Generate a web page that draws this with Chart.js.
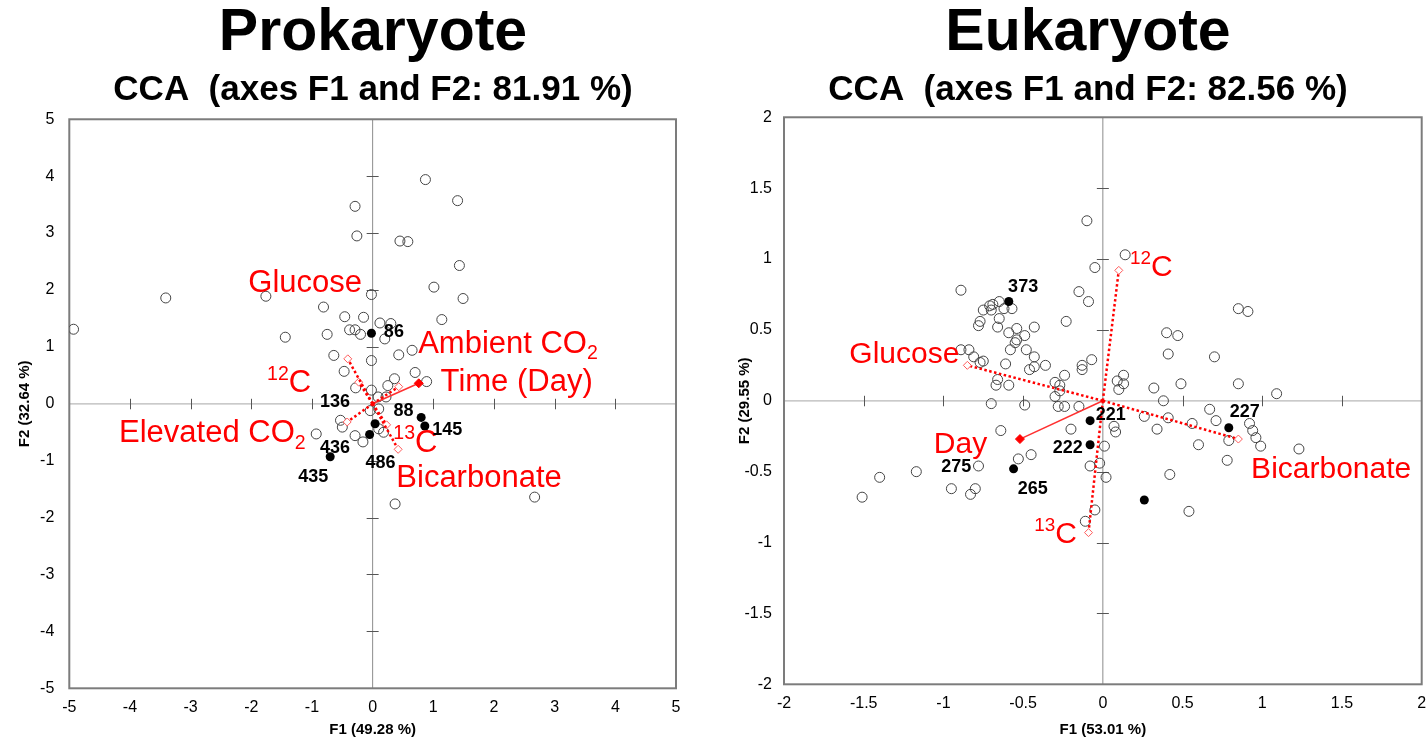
<!DOCTYPE html>
<html><head><meta charset="utf-8">
<script src="https://cdn.jsdelivr.net/npm/chart.js@4.4.0/dist/chart.umd.min.js"></script>
<style>
html,body{margin:0;padding:0;background:#fff;overflow:hidden;width:1427px;height:745px;position:relative;}
#wrapL{position:absolute;left:0;top:0;width:746px;height:745px;}
#wrapR{position:absolute;left:713px;top:0;width:750px;height:745px;}
canvas{display:block;}
</style></head><body>
<div id="wrapL"><canvas id="cL" width="746" height="745"></canvas></div>
<div id="wrapR"><canvas id="cR" width="750" height="745"></canvas></div>
<script>
// ================= DATA =================
// ---- Prokaryote ----
const proTicks = [-5, -4, -3, -2, -1, 0, 1, 2, 3, 4, 5];
const proSiteX = [-4.93, -3.41, -1.76, -1.44, -0.81, -0.75, -0.46, -0.15, -0.38, -0.29, -0.20, -0.29, -0.26, -0.02, -0.64, -0.47, -0.28, -0.02, -0.02, 0.12, 0.87, 1.40, 0.45, 0.58, 1.43, 1.01, 1.49, 1.14, 0.30, 0.20, 0.65, 0.43, 0.70, 0.89, 0.36, 0.25, 0.09, 0.22, -0.04, 0.10, -0.53, -0.50, -0.93, -0.29, -0.16, 0.10, 0.18, 0.37, 2.67];
const proSiteY = [1.31, 1.86, 1.89, 1.17, 1.70, 1.22, 1.53, 1.52, 1.30, 1.30, 1.22, 3.47, 2.95, 1.92, 0.85, 0.57, 0.28, 0.76, 0.24, 1.42, 3.94, 3.57, 2.86, 2.85, 2.43, 2.05, 1.85, 1.48, 1.41, 1.14, 0.94, 0.86, 0.55, 0.39, 0.44, 0.32, 0.12, 0.12, -0.12, -0.09, -0.29, -0.41, -0.53, -0.56, -0.67, -0.44, -0.50, -1.76, -1.64];
const proSampleX = [-0.02, 0.80, 0.86, 0.04, -0.05, -0.70];
const proSampleY = [1.24, -0.24, -0.39, -0.35, -0.54, -0.93];
const proOtuLabels = ['86', '136', '88', '145', '436', '435', '486'];
const proVarNames = ['^{12}C', '^{13}C', 'Glucose', 'Bicarbonate', 'Elevated CO_{2}', 'Ambient CO_{2}', 'Time (Day)'];
const proVarX = [-0.41, 0.42, -0.23, 0.23, -0.42, 0.43, 0.76];
const proVarY = [0.79, -0.80, 0.38, -0.37, -0.32, 0.30, 0.36];
const proVarQuant = [false, false, false, false, false, false, true];

// ---- Eukaryote ----
const eukTicks = [-2, -1.5, -1, -0.5, 0, 0.5, 1, 1.5, 2];
const eukSiteX = [-0.10, -0.89, -0.15, -0.09, -0.23, -0.05, -0.65, -0.69, -0.71, -0.75, -0.70, -0.62, -0.57, -0.77, -0.78, -0.65, -0.66, -0.43, -0.59, -0.54, -0.49, -0.54, -0.55, -0.58, -0.48, -0.43, -0.89, -0.84, -0.81, -0.75, -0.77, -0.61, -0.46, -0.43, -0.36, -0.66, -0.67, -0.59, -0.24, -0.30, -0.27, -0.13, -0.07, -0.13, -0.30, -0.70, -0.49, -0.28, -0.24, -0.15, -0.27, 0.14, 0.85, 0.91, 0.40, 0.47, 0.41, 0.70, 0.13, 0.09, 0.13, 0.10, 0.32, 0.49, 0.85, 1.09, 0.38, 0.67, 0.71, 0.26, 0.41, 0.56, 0.07, 0.08, 0.34, 0.92, 0.94, 0.79, 0.96, 0.99, 1.23, 0.60, 0.01, 0.78, -0.02, 0.02, 0.42, 0.54, -0.05, -0.20, -0.08, -0.45, -0.64, -0.53, -0.78, -1.17, -1.40, -1.51, -0.95, -0.80, -0.83, -0.11];
const eukSiteY = [1.27, 0.78, 0.77, 0.70, 0.56, 0.94, 0.70, 0.68, 0.67, 0.64, 0.64, 0.65, 0.65, 0.56, 0.53, 0.58, 0.52, 0.52, 0.48, 0.51, 0.46, 0.43, 0.41, 0.36, 0.36, 0.31, 0.36, 0.36, 0.31, 0.28, 0.27, 0.26, 0.22, 0.24, 0.25, 0.15, 0.11, 0.11, 0.18, 0.13, 0.11, 0.25, 0.29, 0.22, 0.03, -0.02, -0.03, -0.04, -0.04, -0.04, 0.07, 1.03, 0.65, 0.63, 0.48, 0.46, 0.33, 0.31, 0.18, 0.14, 0.12, 0.08, 0.09, 0.12, 0.12, 0.05, 0.00, -0.06, -0.14, -0.11, -0.12, -0.16, -0.18, -0.22, -0.20, -0.16, -0.21, -0.28, -0.26, -0.32, -0.34, -0.31, -0.32, -0.42, -0.44, -0.54, -0.52, -0.78, -0.77, -0.20, -0.46, -0.38, -0.21, -0.41, -0.46, -0.50, -0.54, -0.68, -0.62, -0.62, -0.66, -0.85];
const eukSampleX = [-0.59, -0.08, -0.08, 0.79, -0.56, 0.26];
const eukSampleY = [0.70, -0.14, -0.31, -0.19, -0.48, -0.70];
const eukOtuLabels = ['373', '221', '222', '227', '275', '265'];
const eukVarNames = ['^{12}C', '^{13}C', 'Glucose', 'Bicarbonate', 'Day'];
const eukVarX = [0.10, -0.09, -0.85, 0.85, -0.52];
const eukVarY = [0.92, -0.93, 0.25, -0.27, -0.27];
const eukVarQuant = [false, false, false, false, true];

// ================= LAYOUT (label anchors in data units, sizes) =================
const FONT = "'Liberation Sans', Arial, Helvetica, sans-serif";
const proLayout = {
  varLabelPos: [[-1.74, 0.20], [0.34, -0.84], [-2.05, 1.96], [0.39, -1.47], [-4.18, -0.68], [0.75, 0.90], [1.12, 0.23]],
  otuLabelPos: [[0.35, 1.26], [-0.62, 0.03], [0.51, -0.12], [1.23, -0.46], [-0.62, -0.78], [-0.98, -1.29], [0.13, -1.04]],
  varSize: 31, yAxisWidth: 69.3, xAxisHeight: 56.7, padRight: 70, subPadBottom: 8.4,
  yTitlePad: 16
};
const eukLayout = {
  varLabelPos: [[0.17, 0.877], [-0.43, -1.0], [-1.59, 0.266], [0.93, -0.545], [-1.06, -0.37]],
  otuLabelPos: [[-0.50, 0.80], [0.05, -0.10], [-0.22, -0.33], [0.89, -0.08], [-0.92, -0.47], [-0.44, -0.62]],
  varSize: 30, yAxisWidth: 71, xAxisHeight: 60.7, padRight: 41.3, subPadBottom: 6.4,
  yTitlePad: 23
};

Chart.defaults.font.family = FONT;
Chart.defaults.color = '#000';

function parseRich(s) {
  const parts = []; const re = /(\^|_)\{([^}]*)\}|([^\^_]+)/g; let m;
  while ((m = re.exec(s))) {
    if (m[3]) parts.push([m[3], '']);
    else parts.push([m[2], m[1] === '^' ? 'sup' : 'sub']);
  }
  return parts;
}

const framePlugin = {
  id: 'frameAxes',
  beforeDatasetsDraw(chart) {
    const {ctx, chartArea: a, scales: {x, y}} = chart;
    const x0 = x.getPixelForValue(0), y0 = y.getPixelForValue(0);
    ctx.save();
    ctx.lineWidth = 1.3; ctx.strokeStyle = '#b8b8b8';
    ctx.beginPath(); ctx.moveTo(a.left, y0); ctx.lineTo(a.right, y0); ctx.stroke();
    ctx.lineWidth = 1; ctx.strokeStyle = '#8c8c8c';
    ctx.beginPath(); ctx.moveTo(x0, a.top); ctx.lineTo(x0, a.bottom); ctx.stroke();
    ctx.strokeStyle = '#555'; ctx.lineWidth = 1;
    ctx.beginPath();
    x.ticks.forEach(t => {
      if (t.value === 0 || t.value === x.min || t.value === x.max) return;
      const p = Math.round(x.getPixelForValue(t.value)) + 0.5;
      ctx.moveTo(p, y0 - 5); ctx.lineTo(p, y0 + 5.5);
    });
    y.ticks.forEach(t => {
      if (t.value === 0 || t.value === y.min || t.value === y.max) return;
      const p = Math.round(y.getPixelForValue(t.value)) + 0.5;
      ctx.moveTo(x0 - 6, p); ctx.lineTo(x0 + 6, p);
    });
    ctx.stroke();
    ctx.lineWidth = 2; ctx.strokeStyle = '#7c7c7c';
    ctx.strokeRect(a.left, a.top, a.right - a.left, a.bottom - a.top);
    ctx.restore();
  }
};

const textPlugin = {
  id: 'textMarks',
  afterDatasetsDraw(chart, args, opts) {
    const {ctx, scales: {x, y}} = chart;
    ctx.save();
    (opts.rich || []).forEach(it => {
      let px = x.getPixelForValue(it.x);
      const py = y.getPixelForValue(it.y);
      ctx.fillStyle = '#ff0000'; ctx.textBaseline = 'alphabetic'; ctx.textAlign = 'left';
      parseRich(it.text).forEach(([t, mode]) => {
        const sz = mode ? it.size * 0.63 : it.size;
        ctx.font = sz + 'px ' + FONT;
        const dy = mode === 'sup' ? -it.size * 0.4 : (mode === 'sub' ? it.size * 0.2 : 0);
        ctx.fillText(t, px, py + dy);
        px += ctx.measureText(t).width;
      });
    });
    (opts.tags || []).forEach(it => {
      ctx.font = 'bold 18px ' + FONT; ctx.fillStyle = '#000';
      ctx.textAlign = 'center'; ctx.textBaseline = 'middle';
      ctx.fillText(it.text, x.getPixelForValue(it.x), y.getPixelForValue(it.y));
    });
    ctx.restore();
  }
};

function vectorDatasets(names, xs, ys, quant) {
  return names.map((n, i) => ({
    label: n,
    data: [{x: 0, y: 0}, {x: xs[i], y: ys[i]}],
    showLine: true,
    borderColor: quant[i] ? '#ff3030' : '#ff0000',
    borderWidth: quant[i] ? 1.5 : 2.5,
    borderDash: quant[i] ? [] : [2.5, 2.5],
    pointRadius: [0, quant[i] ? 4.5 : 4],
    pointStyle: 'rectRot',
    pointBackgroundColor: quant[i] ? '#ff0000' : '#ffffff',
    pointBorderColor: quant[i] ? '#ff0000' : '#ff5a5a',
    pointBorderWidth: 1,
    order: 0
  }));
}

function makeChart(id, d) {
  const L = d.layout;
  return new Chart(document.getElementById(id), {
    type: 'scatter',
    data: {
      datasets: [
        ...vectorDatasets(d.varNames, d.varX, d.varY, d.varQuant),
        {label: 'Samples', data: d.sampleX.map((v, i) => ({x: v, y: d.sampleY[i]})),
          pointRadius: 4.5, pointBackgroundColor: '#000', pointBorderColor: '#000', pointBorderWidth: 0, order: 1},
        {label: 'OTUs', data: d.siteX.map((v, i) => ({x: v, y: d.siteY[i]})),
          pointRadius: 5, pointBackgroundColor: 'rgba(0,0,0,0)', pointBorderColor: '#444', pointBorderWidth: 1, order: 2}
      ]
    },
    options: {
      responsive: false, animation: false, devicePixelRatio: 1, events: [],
      layout: {padding: 0},
      plugins: {
        legend: {display: false}, tooltip: {enabled: false},
        title: {display: true, text: d.title, color: '#000', fullSize: true,
          font: {size: 59, weight: 'bold', lineHeight: 0.93}, padding: {top: 6, bottom: 0}},
        subtitle: {display: true, text: d.subtitle, color: '#000', fullSize: true,
          font: {size: 35, weight: 'bold', lineHeight: 1.2}, padding: {top: 8, bottom: L.subPadBottom}},
        textMarks: {
          rich: d.varNames.map((n, i) => ({text: n, x: L.varLabelPos[i][0], y: L.varLabelPos[i][1], size: L.varSize})),
          tags: d.otuLabels.map((t, i) => ({text: t, x: L.otuLabelPos[i][0], y: L.otuLabelPos[i][1]}))
        }
      },
      scales: {
        x: {
          type: 'linear', position: 'bottom', min: d.ticks[0], max: d.ticks[d.ticks.length - 1],
          grid: {display: false, drawTicks: false}, border: {display: false},
          ticks: {color: '#000', font: {size: 16}, padding: 10, maxRotation: 0, autoSkip: false,
            callback: v => String(v)},
          afterBuildTicks: s => { s.ticks = d.ticks.map(v => ({value: v})); },
          afterFit: s => { s.height = L.xAxisHeight; s.paddingRight = L.padRight; },
          title: {display: true, text: d.xTitle, color: '#000', font: {size: 15, weight: 'bold'}, padding: {top: 0, bottom: 6}}
        },
        y: {
          type: 'linear', position: 'left', min: d.ticks[0], max: d.ticks[d.ticks.length - 1],
          grid: {display: false, drawTicks: false}, border: {display: false},
          ticks: {color: '#000', font: {size: 16}, padding: d.yTickPad, autoSkip: false,
            callback: v => String(v)},
          afterBuildTicks: s => { s.ticks = d.ticks.map(v => ({value: v})); },
          afterFit: s => { s.width = L.yAxisWidth; },
          title: {display: true, text: d.yTitle, color: '#000', font: {size: 15, weight: 'bold'}, padding: {top: L.yTitlePad, bottom: 0}}
        }
      }
    },
    plugins: [framePlugin, textPlugin]
  });
}

makeChart('cL', {
  title: 'Prokaryote', subtitle: 'CCA  (axes F1 and F2: 81.91 %)',
  xTitle: 'F1 (49.28 %)', yTitle: 'F2 (32.64 %)', ticks: proTicks, yTickPad: 15,
  siteX: proSiteX, siteY: proSiteY, sampleX: proSampleX, sampleY: proSampleY,
  otuLabels: proOtuLabels, varNames: proVarNames, varX: proVarX, varY: proVarY, varQuant: proVarQuant,
  layout: proLayout
});
makeChart('cR', {
  title: 'Eukaryote', subtitle: 'CCA  (axes F1 and F2: 82.56 %)',
  xTitle: 'F1 (53.01 %)', yTitle: 'F2 (29.55 %)', ticks: eukTicks, yTickPad: 12,
  siteX: eukSiteX, siteY: eukSiteY, sampleX: eukSampleX, sampleY: eukSampleY,
  otuLabels: eukOtuLabels, varNames: eukVarNames, varX: eukVarX, varY: eukVarY, varQuant: eukVarQuant,
  layout: eukLayout
});
</script>
</body></html>
